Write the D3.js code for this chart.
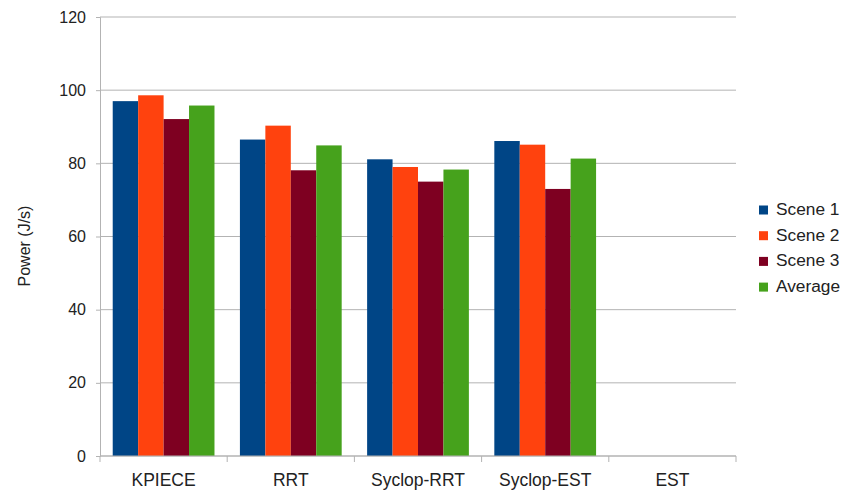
<!DOCTYPE html>
<html>
<head>
<meta charset="utf-8">
<script src="https://cdnjs.cloudflare.com/ajax/libs/d3/7.8.5/d3.min.js"></script>
<style>
  html, body { margin: 0; padding: 0; background: #fff; }
  svg { display: block; font-family: "Liberation Sans", Arial, sans-serif; }
</style>
</head>
<body>
<svg id="chart" width="843" height="490"></svg>
<script>
// Planner power draw per scene
const categories = ["KPIECE", "RRT", "Syclop-RRT", "Syclop-EST", "EST"];
const seriesNames = ["Scene 1", "Scene 2", "Scene 3", "Average"];
const scene1 = [97.0, 86.5, 81.1, 86.1, null];
const scene2 = [98.6, 90.3, 79.0, 85.1, null];
const scene3 = [92.1, 78.1, 75.0, 73.0, null];
const average = [95.8, 84.9, 78.3, 81.3, null];
const yTicks = [0, 20, 40, 60, 80, 100, 120];
const colors = ["#004586", "#ff420e", "#7e0021", "#46a21c"];

const seriesValues = [scene1, scene2, scene3, average];

const svg = d3.select("#chart");
const margin = { left: 100, right: 107, top: 17, bottom: 34 };
const width = 843 - margin.left - margin.right;
const height = 490 - margin.top - margin.bottom;
const g = svg.append("g").attr("transform", `translate(${margin.left},${margin.top})`);

const x0 = d3.scaleBand().domain(categories).range([0, width]).paddingInner(0.2).paddingOuter(0.1);
const x1 = d3.scaleBand().domain(seriesNames).range([0, x0.bandwidth()]);
const y = d3.scaleLinear().domain([0, 120]).range([height, 0]);

// horizontal grid lines
g.append("g").selectAll("line").data(yTicks).join("line")
  .attr("x1", 0).attr("x2", width)
  .attr("y1", d => y(d)).attr("y2", d => y(d))
  .attr("stroke", "#b3b3b3").attr("stroke-width", 1);

// bars
const rows = categories.map((c, i) => ({ cat: c, vals: seriesNames.map((s, j) => ({ s, v: seriesValues[j][i], j })) }));
g.append("g").selectAll("g").data(rows).join("g")
  .attr("transform", d => `translate(${x0(d.cat)},0)`)
  .selectAll("rect").data(d => d.vals.filter(e => e.v != null)).join("rect")
  .attr("x", d => x1(d.s))
  .attr("width", x1.bandwidth())
  .attr("y", d => y(d.v))
  .attr("height", d => y(0) - y(d.v))
  .attr("fill", d => colors[d.j]);

// y axis
const yAxis = d3.axisLeft(y).tickValues(yTicks).tickSize(4).tickPadding(10);
const ya = g.append("g").call(yAxis);
ya.select(".domain").attr("stroke", "#b3b3b3");
ya.selectAll(".tick line").attr("stroke", "#b3b3b3");
ya.selectAll(".tick text").attr("font-size", 16).attr("fill", "#222")
  .attr("font-family", "Liberation Sans, Arial, sans-serif");

// x axis with boundary ticks between categories
const step = x0.step();
const bounds = d3.range(categories.length + 1).map(i => i * step);
g.append("line").attr("x1", 0).attr("x2", width).attr("y1", height).attr("y2", height)
  .attr("stroke", "#b3b3b3");
g.append("g").selectAll("line").data(bounds).join("line")
  .attr("x1", d => d).attr("x2", d => d)
  .attr("y1", height).attr("y2", height + 6)
  .attr("stroke", "#b3b3b3");
g.append("g").selectAll("text").data(categories).join("text")
  .attr("x", d => x0(d) + x0.bandwidth() / 2)
  .attr("y", height + 30)
  .attr("text-anchor", "middle")
  .attr("font-size", 17.5).attr("fill", "#222")
  .text(d => d);

// y axis title
svg.append("text")
  .attr("transform", "translate(30,246) rotate(-90)")
  .attr("text-anchor", "middle")
  .attr("font-size", 16).attr("fill", "#222")
  .text("Power (J/s)");

// legend
const legend = svg.append("g").attr("transform", "translate(759,215)");
const li = legend.selectAll("g").data(seriesNames).join("g")
  .attr("transform", (d, i) => `translate(0,${i * 25.7})`);
li.append("rect").attr("x", 0).attr("y", -9.5).attr("width", 9).attr("height", 9)
  .attr("fill", (d, i) => colors[i]);
li.append("text").attr("x", 17).attr("y", 0).attr("font-size", 17.3).attr("fill", "#222").text(d => d);
</script>
</body>
</html>
